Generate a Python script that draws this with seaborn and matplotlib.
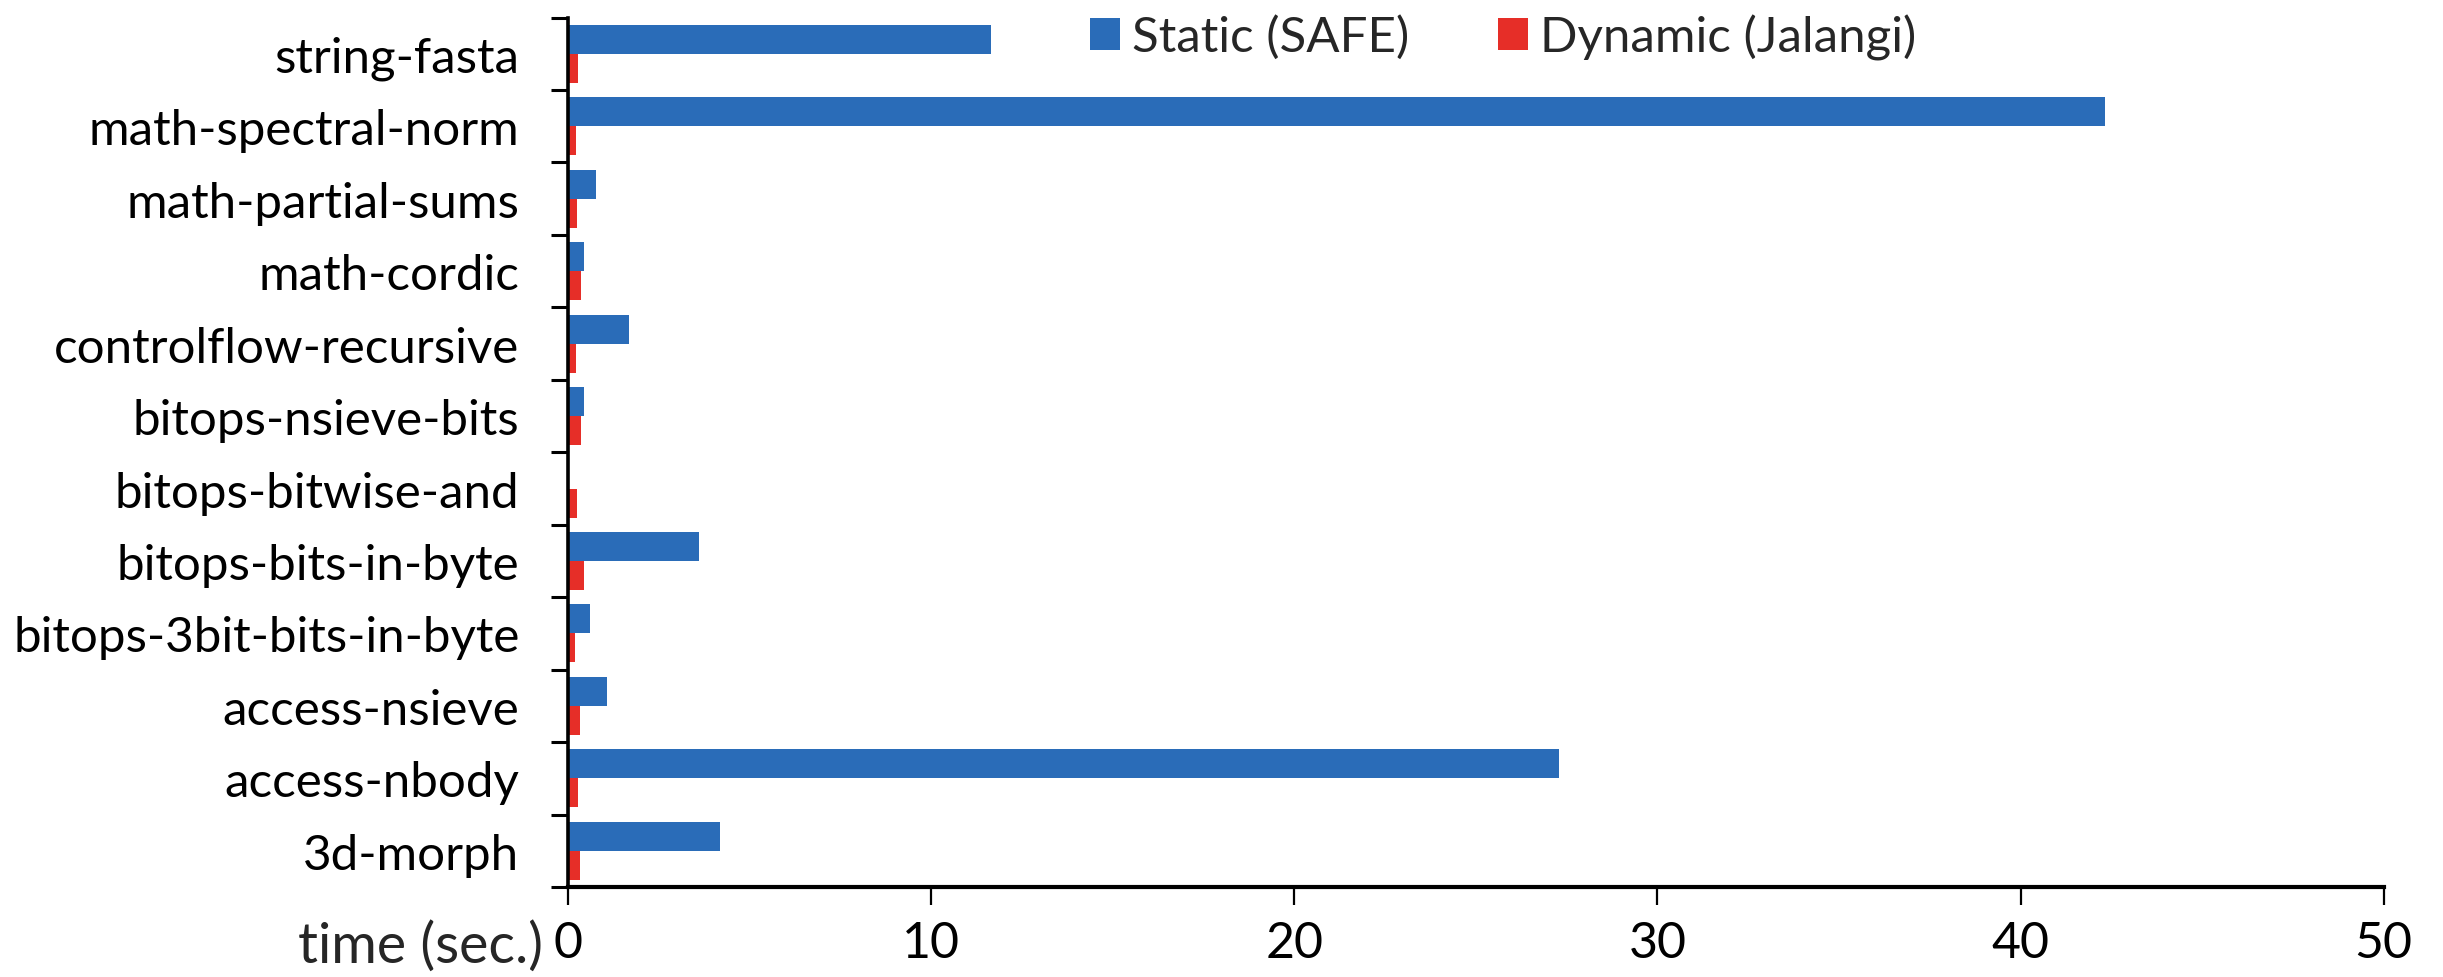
import numpy as np
import pandas as pd
import matplotlib
matplotlib.use("Agg")
import matplotlib.pyplot as plt
import seaborn as sns

# ── data (top row first, as drawn) ────────────────────────────────────────────
benchmarks = [
    "string-fasta", "math-spectral-norm", "math-partial-sums", "math-cordic",
    "controlflow-recursive", "bitops-nsieve-bits", "bitops-bitwise-and",
    "bitops-bits-in-byte", "bitops-3bit-bits-in-byte", "access-nsieve",
    "access-nbody", "3d-morph",
]
static_safe = [11.64, 42.32, 0.76, 0.43, 1.68, 0.43, 0.03, 3.60, 0.60, 1.07, 27.28, 4.19]
dynamic_jalangi = [0.28, 0.22, 0.25, 0.35, 0.22, 0.36, 0.24, 0.45, 0.20, 0.34, 0.28, 0.34]
series_names = ["Static (SAFE)", "Dynamic (Jalangi)"]
x_ticks = [0, 10, 20, 30, 40, 50]

df = pd.DataFrame({
    "benchmark": benchmarks * 2,
    "time": static_safe + dynamic_jalangi,
    "tool": [series_names[0]] * len(benchmarks) + [series_names[1]] * len(benchmarks),
})

sns.set_theme(style="white")
plt.rcParams["font.family"] = ["Lato", "DejaVu Sans"]

fig = plt.figure(figsize=(24.43, 9.78), dpi=100)
ax = fig.add_axes([0.2325, 0.092, 0.7432, 0.889])

sns.barplot(data=df, y="benchmark", x="time", hue="tool", order=benchmarks,
            hue_order=series_names, orient="h", width=0.8, gap=0,
            palette=["#2a6cb8", "#e62e28"], saturation=1, linewidth=0,
            errorbar=None, ax=ax)

ax.set_xlim(0, 50)
ax.set_ylim(len(benchmarks) - 0.5, -0.5)
ax.set_xticks(x_ticks)
ax.set_xticklabels([str(t) for t in x_ticks], fontsize=36)
ax.set_yticks(np.arange(len(benchmarks)))
ax.set_yticklabels(benchmarks, fontsize=35.5)
ax.set_yticks(np.arange(len(benchmarks) + 1) - 0.5, minor=True)

ax.tick_params(axis="y", which="major", length=0, pad=35, labelcolor="black")
ax.tick_params(axis="y", which="minor", left=True, length=12, width=2.2, color="black")
ax.tick_params(axis="x", which="major", bottom=True, direction="out", length=13,
               width=1.6, color="black", pad=11, labelcolor="black")

for side in ["top", "right"]:
    ax.spines[side].set_visible(False)
ax.spines["left"].set_linewidth(2.6)
ax.spines["bottom"].set_linewidth(3.0)
ax.spines["left"].set_color("black")
ax.spines["bottom"].set_color("black")

ax.set_ylabel("")
ax.set_xlabel("time (sec.)", fontsize=40, ha="right", va="center")
ax.xaxis.set_label_coords(-0.014, -0.068)

sns.move_legend(ax, "center", bbox_to_anchor=(0.515, 0.978), ncol=2,
                frameon=False, title=None, fontsize=35.5, handlelength=0.6,
                handleheight=0.6, handletextpad=0.25, columnspacing=1.8)

fig.savefig("out.png", dpi=100, facecolor="white")
